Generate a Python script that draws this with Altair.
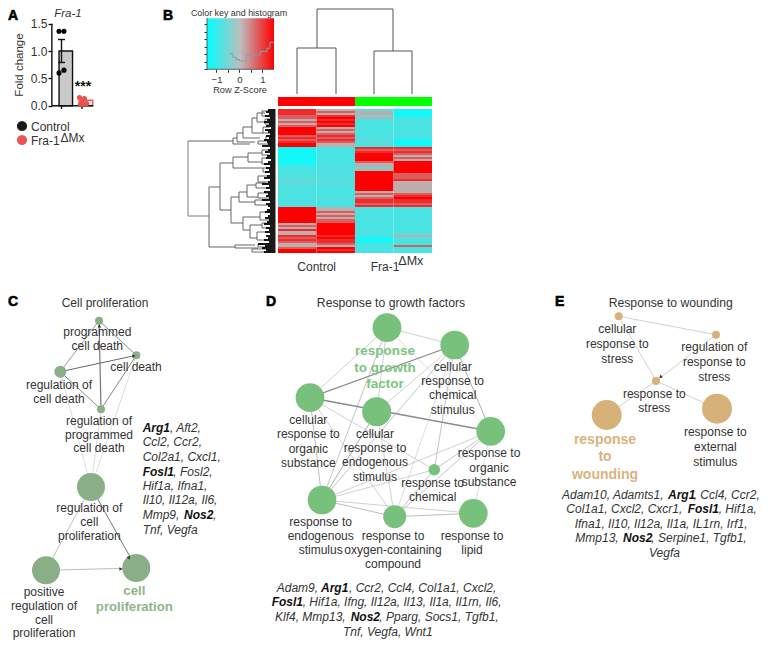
import altair as alt
import pandas as pd

FONT = "Liberation Sans"
INK = "#333333"
L, R, T, B = 8, 760, 8, 645


def xdom(v0, p0, per):
    return [v0 + (L - p0) / per, v0 + (R - p0) / per]


def ydom(v0, p0, per):
    return [v0 + (B - p0) / per, v0 + (T - p0) / per]


PX = alt.Scale(domain=[L, R], nice=False, zero=False)
PY = alt.Scale(domain=[B, T], nice=False, zero=False)
NOAX = None

# ---------- Panel A ----------
bar_group = [0, 1]
bar_value = [1.0, 0.1]
bar_fill = ["#c9c9c9", "#fbe3e1"]
bar_stroke = ["#111111", "#ec5a5a"]
err_low, err_high = 0.79, 1.21
ctrl_x = [-0.12, 0.12, 0.12, -0.12]
ctrl_y = [1.36, 1.36, 0.65, 0.60]
ko_x = [-0.12, 0.12, 0.0, 0.05, -0.08, 0.22]
ko_y = [0.15, 0.13, 0.07, 0.03, 0.02, 0.04]
SA_X = alt.Scale(domain=xdom(0, 61.5, 20.5), nice=False, zero=False)
SA_Y = alt.Scale(domain=ydom(0, 105.7, -54.7), nice=False, zero=False)

# ---------- Panel B ----------
col1 = ("rrrppgpgpRRRRprprRR" + "ccccccccctttttataaatttattttatt" + "RRRRRRRRgpgrggrprpggpRR")
col2 = ("gpgrRrRrRgpgprprpgg" + "tttttttttttatttataattttttatttt" + "ggpgpgppRRRRRRrRrrpgRrR")
col3 = ("aggagttttttttttaatt" + "rprRRRRpggagRRRRRRRRRRgpgprrpr" + "tttttttttttttttcccttttt")
col4 = ("ccccttttttttttt" + "cccc" + "rprpgpgRRRRRRppprggggggprRrrpr" + "tttttttttttttagttttpttt")
LEVEL = {"R": 1.5, "r": 1.15, "p": 0.75, "g": 0.1, "a": -0.72, "t": -0.9, "c": -1.35}
columns = [col1, col2, col3, col4]
leaf_start = [268, 266, 269, 265, 270, 267, 264, 269, 266, 271, 265, 268, 270, 266, 269, 264, 267, 268,
              262, 270, 268, 265, 270, 267, 266, 271, 268, 264, 270, 266, 269, 265, 270, 267, 264, 270,
              268, 262, 269, 266, 270, 264, 268, 266, 269, 262, 270, 266, 268, 270, 267, 265, 270, 268,
              265, 269, 267, 264, 270, 266, 269, 265, 270, 266, 268, 264, 269, 258, 265, 262, 266, 264]
hist_z = [-0.42, -0.28, -0.14, 0.0, 0.14, 0.3, 0.55, 0.9, 1.2, 1.32, 1.5]
hist_c = [2.1, 1.6, 1.3, 1.1, 1.1, 1.9, 1.9, 2.4, 2.8, 3.6, 3.6]
top_tree = [(317, 48, 297, 94, 336, 94), (393, 51, 374, 94, 412, 94)]
top_root = (9, 317, 393)
forks = [
    (233, 138, 237, 144, 250), (237, 133, 243, 142, 255), (243, 127, 252, 138, 260),
    (252, 118, 257, 133, 263), (257, 113, 265, 122, 266), (209, 187, 220, 247, 235),
    (220, 163, 233, 210, 231), (233, 157, 248, 168, 263), (248, 153, 262, 162, 262),
    (231, 197, 239, 223, 243), (239, 192, 247, 202, 255), (247, 185, 256, 197, 258),
    (243, 217, 260, 230, 250), (250, 225, 262, 238, 257), (235, 245, 255, 248, 258),
    (262, 111, 270, 116, 270), (265, 119, 271, 124, 271), (263, 127, 270, 133, 270),
    (266, 136, 272, 140, 272), (258, 141, 270, 144, 272), (262, 150, 270, 155, 270),
    (262, 158, 270, 164, 270), (263, 168, 270, 172, 270), (258, 176, 268, 182, 270),
    (256, 183, 266, 188, 268), (258, 193, 268, 198, 270), (255, 200, 266, 205, 270),
    (260, 212, 270, 220, 270), (262, 223, 270, 228, 271), (257, 232, 268, 240, 270),
    (258, 244, 270, 247, 271), (252, 249, 268, 252, 270),
]
root_fork = (188, 141, 233, 216, 209)

# ---------- Networks: x, y, diameter ----------
GREEN_C, GREEN_D, TAN = "#8aae85", "#78c17c", "#d6b27a"
c_nodes = [(99, 320.7, 8), (136.3, 355.3, 8), (60.3, 371.7, 12), (101, 409.3, 8),
           (91, 487, 28), (46, 570.3, 28), (136.3, 568, 28)]
c_edges = [(0, 1, "#888", 1), (0, 2, "#999", 1), (3, 0, "#777", 1.2), (2, 1, "#666", 1),
           (2, 3, "#888", 1), (3, 1, "#888", 1), (2, 4, "#d4d4d4", 0.8), (3, 4, "#d4d4d4", 0.8),
           (1, 4, "#d4d4d4", 0.8), (4, 5, "#b5b5b5", 0.9), (4, 6, "#666", 0.9), (5, 6, "#b5b5b5", 0.9)]
d_nodes = [(387, 327.7, 28.7), (454.7, 345, 28.7), (310, 397.7, 28.7), (376.7, 411.7, 29),
           (490.7, 431.3, 28.7), (434.3, 469.7, 11.5), (322, 500, 28.7), (394.7, 516.7, 23),
           (473.3, 513.3, 28.7)]
d_edges = [(0, 1, "#c4c4c4", 0.8), (0, 2, "#c4c4c4", 0.8), (0, 3, "#c4c4c4", 0.8), (0, 4, "#d4d4d4", 0.8),
           (0, 6, "#b5b5b5", 0.8), (1, 2, "#8c8c8c", 1.3), (1, 3, "#c4c4c4", 0.8), (1, 6, "#b5b5b5", 0.8),
           (1, 4, "#a5a5a5", 0.9), (1, 5, "#b5b5b5", 0.8), (1, 7, "#d4d4d4", 0.8), (2, 4, "#8c8c8c", 1.5),
           (2, 6, "#b5b5b5", 0.9), (2, 7, "#c4c4c4", 0.8), (2, 5, "#c4c4c4", 0.8), (3, 6, "#a5a5a5", 0.9),
           (3, 7, "#c4c4c4", 0.8), (4, 5, "#b5b5b5", 0.8), (4, 6, "#c4c4c4", 0.8), (4, 7, "#b5b5b5", 0.8),
           (4, 8, "#d4d4d4", 0.8), (5, 6, "#c4c4c4", 0.8), (5, 7, "#b5b5b5", 0.8), (6, 7, "#b5b5b5", 0.9),
           (6, 8, "#c4c4c4", 0.8), (7, 8, "#b5b5b5", 0.9)]
e_nodes = [(618.7, 316.3, 8), (716, 334.7, 8), (656, 381, 8), (606.7, 415, 30), (717, 408.7, 30)]
e_edges = [(0, 1, "#ccc", 0.9), (0, 2, "#ccc", 0.9), (1, 2, "#ccc", 0.9), (2, 3, "#ccc", 0.9),
           (2, 4, "#ccc", 0.9)]
arrow_x = [134, 99.3, 129, 121, 660.5]
arrow_y = [356, 326, 558, 569, 377]
arrow_angle = [80, 0, 150, 90, 230]

# ---------- Text ----------
reg = [
    ("Control", 31, 126.5, 12, "left"), ("Fra-1", 31, 141, 12, "left"), ("ΔMx", 60.5, 138, 12, "left"),
    ("Color key and histogram", 239, 13, 8.9, "center"), ("Row Z-Score", 240, 90, 9.2, "center"),
    ("Control", 316.7, 266.7, 12, "center"), ("Fra-1", 370.7, 267, 12, "left"), ("ΔMx", 398.3, 261, 12.5, "left"),
    ("Cell proliferation", 105, 303, 12, "center"),
    ("Response to growth factors", 391, 303.3, 12.2, "center"),
    ("Response to wounding", 670.7, 303.3, 12.2, "center"),
]
for line in [
    ("programmed", 97.3, 332), ("cell death", 97.3, 346), ("cell death", 136, 366.7),
    ("regulation of", 59, 385), ("cell death", 59, 398.7), ("regulation of", 99, 420.7),
    ("programmed", 99, 434.7), ("cell death", 99, 448.3), ("regulation of", 89.3, 508.3),
    ("cell", 89.3, 522.3), ("proliferation", 89.3, 536.3), ("positive", 44, 592),
    ("regulation of", 44, 605.7), ("cell", 44, 619.7), ("proliferation", 44, 633.3),
    ("cellular", 452.7, 367), ("response to", 452.7, 381), ("chemical", 452.7, 395.3), ("stimulus", 452.7, 410),
    ("cellular", 308.3, 420), ("response to", 308.3, 434.3), ("organic", 308.3, 448.7), ("substance", 308.3, 463),
    ("cellular", 375, 433.7), ("response to", 375, 448), ("endogenous", 375, 462.3), ("stimulus", 375, 476.7),
    ("response to", 489, 453.3), ("organic", 489, 467.7), ("substance", 489, 482),
    ("response to", 432.7, 483.3), ("chemical", 432.7, 497.3),
    ("response to", 320.7, 521.7), ("endogenous", 320.7, 536), ("stimulus", 320.7, 550),
    ("response to", 393, 536), ("oxygen-containing", 393, 550), ("compound", 393, 564.3),
    ("response to", 472, 535.7), ("lipid", 472, 549.7),
    ("cellular", 617.3, 329), ("response to", 617.3, 343.7), ("stress", 617.3, 358.7),
    ("regulation of", 714.3, 347.3), ("response to", 714.3, 362.3), ("stress", 714.3, 377.3),
    ("response to", 654.3, 393.7), ("stress", 654.3, 408.3),
    ("response to", 715.3, 432.3), ("external", 715.3, 447), ("stimulus", 715.3, 462),
]:
    reg.append((line[0], line[1], line[2], 12, "center"))

green_bold = [
    ("cell", 134.3, 591, "#8fb48a"), ("proliferation", 134.3, 607.3, "#8fb48a"),
    ("response", 385, 351, "#7cc47f"), ("to growth", 385, 367.7, "#7cc47f"), ("factor", 385, 384.3, "#7cc47f"),
    ("response", 605, 439.7, "#d8b47c"), ("to", 605, 457, "#d8b47c"), ("wounding", 605, 474.7, "#d8b47c"),
]
panel_letters = [("A", 8, 16), ("B", 163, 16), ("C", 8, 302), ("D", 266, 302), ("E", 555, 302)]

# The block under panel E is moved 8 px left: the page's width ends at x = 760.
italic_left = [
    (", Aft2,", 170, 427.7), ("Ccl2, Ccr2,", 142.7, 442.3), ("Col2a1, Cxcl1,", 142.7, 457),
    (", Fosl2,", 173.3, 471.7), ("Hif1a, Ifna1,", 142.7, 485.7), ("Il10, Il12a, Il6,", 142.7, 500.3),
    ("Mmp9,", 142.7, 515), (",", 213, 515), ("Tnf, Vegfa", 142.7, 530),
    ("Adam9,", 276.7, 587.7), (", Ccr2, Ccl4, Col1a1, Cxcl2,", 349, 587.7),
    (", Hif1a, Ifng, Il12a, Il13, Il1a, Il1rn, Il6,", 302.7, 602.3),
    ("Klf4, Mmp13,", 275, 617), (", Pparg, Socs1, Tgfb1,", 379.3, 617),
    ("Tnf, Vegfa, Wnt1", 343, 631.7),
    ("Adam10, Adamts1,", 562, 494.7), (", Ccl4, Ccr2,", 693.7, 494.7),
    ("Col1a1, Cxcl2, Cxcr1,", 566.3, 509.3), (", Hif1a,", 718.7, 509.3),
    ("Ifna1, Il10, Il12a, Il1a, IL1rn, Irf1,", 574.7, 523.7),
    ("Mmp13,", 575.3, 538.3), (", Serpine1, Tgfb1,", 651.3, 538.3), ("Vegfa", 649, 553),
]
bold_italic = [
    ("Arg1", 142.7, 427.7), ("Fosl1", 142.7, 471.7), ("Nos2", 184, 515),
    ("Arg1", 321, 587.7), ("Fosl1", 271.7, 602.3), ("Nos2", 350.7, 617),
    ("Arg1", 668, 494.7), ("Fosl1", 687.7, 509.3), ("Nos2", 623, 538.3),
]


# ---------- builders ----------
def segs(rows):
    return pd.DataFrame(rows, columns=["x", "y", "x2", "y2", "c", "w"])


def rules(df):
    return alt.Chart(df).mark_rule().encode(
        x=alt.X("x:Q", scale=PX, axis=NOAX), x2="x2:Q",
        y=alt.Y("y:Q", scale=PY, axis=NOAX), y2="y2:Q",
        color=alt.Color("c:N", scale=None),
        strokeWidth=alt.StrokeWidth("w:Q", scale=None),
    )


def texts(rows, color=INK, **mark):
    df = pd.DataFrame(rows, columns=["t", "x", "y", "s"])
    return alt.Chart(df).mark_text(font=FONT, color=color, baseline="middle", **mark).encode(
        x=alt.X("x:Q", scale=PX, axis=NOAX), y=alt.Y("y:Q", scale=PY, axis=NOAX),
        text="t:N", size=alt.Size("s:Q", scale=None),
    )


def network(nodes, edges, color):
    e = segs([(nodes[a][0], nodes[a][1], nodes[b][0], nodes[b][1], c, w) for a, b, c, w in edges])
    n = pd.DataFrame([(x, y, d * d) for x, y, d in nodes], columns=["x", "y", "s"])
    circles = alt.Chart(n).mark_circle(opacity=1, color=color).encode(
        x=alt.X("x:Q", scale=PX, axis=NOAX), y=alt.Y("y:Q", scale=PY, axis=NOAX),
        size=alt.Size("s:Q", scale=None),
    )
    return [rules(e), circles]


layers = []

# --- A ---
a_x = alt.X("g:Q", scale=SA_X, axis=NOAX)
a_y_axis = alt.Axis(orient="left", offset=-44, values=[0, 0.5, 1.0, 1.5], format=".1f", domain=False, grid=False,
                    tickSize=4, tickWidth=1.3, tickColor="#111", labelFont=FONT, labelFontSize=12,
                    labelColor=INK, labelPadding=1, title=None)
bars = pd.DataFrame({"g": bar_group, "v": bar_value, "f": bar_fill, "s": bar_stroke})
layers.append(alt.Chart(bars).mark_bar(orient="vertical", width=13.5, strokeWidth=1.4).encode(
    x=a_x, y=alt.Y("v:Q", scale=SA_Y, axis=a_y_axis), y2=alt.datum(0),
    fill=alt.Fill("f:N", scale=None), stroke=alt.Stroke("s:N", scale=None)))
a_lines = pd.DataFrame([
    (-0.47, 0, -0.47, 1.5), (-0.47, 0, 1.55, 0), (0, err_low, 0, err_high),
    (-0.17, err_low, 0.17, err_low), (-0.17, err_high, 0.17, err_high),
    (0, 0, 0, -0.06), (1, 0, 1, -0.06),
], columns=["g", "v", "g2", "v2"])
layers.append(alt.Chart(a_lines).mark_rule(color="#111", strokeWidth=1.4).encode(
    x=a_x, x2="g2:Q", y=alt.Y("v:Q", scale=SA_Y, axis=NOAX), y2="v2:Q"))
layers.append(alt.Chart(pd.DataFrame({"g": ctrl_x, "v": ctrl_y})).mark_circle(size=26, opacity=1, color="#000").encode(
    x=a_x, y=alt.Y("v:Q", scale=SA_Y, axis=NOAX)))
layers.append(alt.Chart(pd.DataFrame({"g": [1 + d for d in ko_x], "v": ko_y})).mark_circle(
    size=26, opacity=1, color="#e85050").encode(x=a_x, y=alt.Y("v:Q", scale=SA_Y, axis=NOAX)))
legend_pts = pd.DataFrame({"x": [22, 22], "y": [126, 140], "c": ["#1a1a1a", "#ec5454"]})
layers.append(alt.Chart(legend_pts).mark_circle(size=105, opacity=1).encode(
    x=alt.X("x:Q", scale=PX, axis=NOAX), y=alt.Y("y:Q", scale=PY, axis=NOAX),
    color=alt.Color("c:N", scale=None)))
layers.append(texts([("***", 83, 87, 14)], color="#111", fontWeight="bold", align="center"))
layers.append(texts([("Fra-1", 68, 14, 11.5)], fontStyle="italic", align="center"))
layers.append(texts([("Fold change", 20, 65, 11.5)], angle=270, align="center"))

# --- B: colour key ---
K_X = alt.Scale(domain=xdom(0, 239.5, 23), nice=False, zero=False)
K_Y = alt.Scale(domain=ydom(0, 69.3, -7.5), nice=False, zero=False)
key_x_axis = alt.Axis(orient="bottom", offset=-(B - 69.3), values=[-1, -0.5, 0, 0.5, 1],
                      labelExpr="datum.value % 1 === 0 ? format(datum.value, 'd') : ''",
                      domain=False, grid=False, tickSize=3, tickColor="#333", labelFont=FONT, labelFontSize=9.5,
                      labelColor=INK, labelPadding=2, title=None, labelOverlap=False)
key_y_axis = alt.Axis(orient="left", offset=-(207 - L), values=[0, 1, 2, 3, 4, 5, 6], domain=False, grid=False,
                      tickSize=3, tickColor="#333", labels=False, title=None)
key_fill = alt.LinearGradient(gradient="linear", x1=0, x2=1, y1=0, y2=0, stops=[
    alt.GradientStop(color="#00ffff", offset=0), alt.GradientStop(color="#bdbdbd", offset=0.5),
    alt.GradientStop(color="#ff0000", offset=1)])
key_df = pd.DataFrame({"z": [-1.42], "z2": [1.5], "c": [0], "c2": [6.8]})
layers.append(alt.Chart(key_df).mark_rect(fill=key_fill).encode(
    x=alt.X("z:Q", scale=K_X, axis=key_x_axis), x2="z2:Q",
    y=alt.Y("c:Q", scale=K_Y, axis=key_y_axis), y2="c2:Q"))
layers.append(alt.Chart(pd.DataFrame({"z": hist_z, "c": hist_c})).mark_line(
    interpolate="step-after", color="#7fa5a5", strokeWidth=1).encode(
    x=alt.X("z:Q", scale=K_X, axis=NOAX), y=alt.Y("c:Q", scale=K_Y, axis=NOAX)))
layers.append(rules(segs([(207, 18, 207, 69.3, "#444", 0.8), (207, 69.3, 274, 69.3, "#444", 0.8)])))

# --- B: heat map ---
H_X = alt.Scale(domain=xdom(0, 278, 38.5), nice=False, zero=False)
H_Y = alt.Scale(domain=ydom(0, 109, 2), nice=False, zero=False)
cells = []
for ci, col in enumerate(columns):
    for ri, ch in enumerate(col[:72]):
        cells.append((ci, ci + 1, ri, ri + 1, LEVEL[ch]))
cells = pd.DataFrame(cells, columns=["a", "a2", "r", "r2", "z"])
layers.append(alt.Chart(cells).mark_rect().encode(
    x=alt.X("a:Q", scale=H_X, axis=NOAX), x2="a2:Q",
    y=alt.Y("r:Q", scale=H_Y, axis=NOAX), y2="r2:Q",
    color=alt.Color("z:Q", legend=None, scale=alt.Scale(
        domain=[-1.5, 0, 1.5], range=["#00ffff", "#b9b9b9", "#ff0000"], interpolate="rgb"))))
group_bar = pd.DataFrame({"a": [0, 2], "a2": [2, 4], "r": [-6, -6], "r2": [-1.5, -1.5], "c": ["#ff0000", "#00ff00"]})
layers.append(alt.Chart(group_bar).mark_rect().encode(
    x=alt.X("a:Q", scale=H_X, axis=NOAX), x2="a2:Q",
    y=alt.Y("r:Q", scale=H_Y, axis=NOAX), y2="r2:Q",
    color=alt.Color("c:N", scale=None)))

# --- B: dendrograms ---
tree = []
for xm, y0, xa, ya, xb, yb in top_tree:
    tree += [(xa, y0, xb, y0, "#555", 1), (xa, y0, xa, ya, "#555", 1), (xb, y0, xb, yb, "#555", 1)]
    tree.append((xm, top_root[0], xm, y0, "#555", 1))
tree.append((top_root[1], top_root[0], top_root[2], top_root[0], "#555", 1))
rx, ry1, rxe1, ry2, rxe2 = root_fork
tree += [(rx, ry1, rx, ry2, "#999", 1.3), (rx, ry1, rxe1, ry1, "#999", 1.3), (rx, ry2, rxe2, ry2, "#999", 1.3)]
for x, y1, e1, y2, e2 in forks:
    tree += [(x, y1, x, y2, "#555", 0.9), (x, y1, e1, y1, "#555", 0.9), (x, y2, e2, y2, "#555", 0.9)]
for i, sx in enumerate(leaf_start):
    tree.append((sx, 110 + 2 * i, 275.5, 110 + 2 * i, "#000", 1.8))
layers.append(rules(segs(tree)))

# --- C, D, E ---
layers += network(c_nodes, c_edges, GREEN_C)
layers += network(d_nodes, d_edges, GREEN_D)
layers += network(e_nodes, e_edges, TAN)
arrows = pd.DataFrame({"x": arrow_x, "y": arrow_y, "a": arrow_angle})
layers.append(alt.Chart(arrows).mark_point(shape="triangle-up", filled=True, size=14, opacity=1, color="#333").encode(
    x=alt.X("x:Q", scale=PX, axis=NOAX), y=alt.Y("y:Q", scale=PY, axis=NOAX),
    angle=alt.Angle("a:Q", scale=None)))

# --- text ---
for al in ["left", "center"]:
    layers.append(texts([(t, x, y, s) for t, x, y, s, a in reg if a == al], align=al))
layers.append(texts([(t, x, y, 13.2) for t, x, y, c in green_bold if c == "#8fb48a"], color="#8fb48a", fontWeight="bold", align="center"))
layers.append(texts([(t, x, y, 13.5) for t, x, y, c in green_bold if c == "#7cc47f"], color="#7cc47f", fontWeight="bold", align="center"))
layers.append(texts([(t, x, y, 14) for t, x, y, c in green_bold if c == "#d8b47c"], color="#d8b47c", fontWeight="bold", align="center"))
layers.append(texts([(t, x, y, 14) for t, x, y in panel_letters], color="#000", fontWeight=900, align="left",
                    stroke="#000", strokeWidth=0.6))
layers.append(texts([(t, x, y, 12) for t, x, y in italic_left], fontStyle="italic", align="left"))
layers.append(texts([(t, x, y, 12) for t, x, y in bold_italic], color="#111", fontStyle="italic", fontWeight="bold", align="left"))

chart = (
    alt.layer(*layers)
    .resolve_scale(x="independent", y="independent", color="independent", size="independent")
    .properties(width=R - L, height=B - T, padding=0, autosize=alt.AutoSizeParams(type="none"), background="white")
    .configure_view(strokeWidth=0)
)
chart.save("out.html", embed_options={"renderer": "svg", "actions": False})
